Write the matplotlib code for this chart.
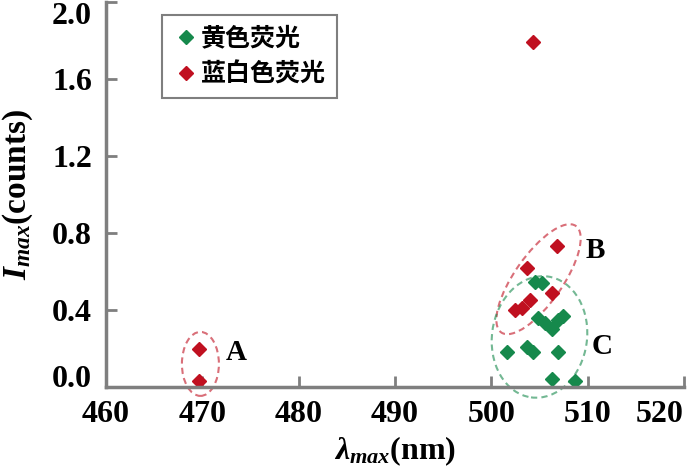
import matplotlib
matplotlib.use("Agg")
import matplotlib.pyplot as plt
from matplotlib.patches import Ellipse
from matplotlib.transforms import ScaledTranslation

plt.rcParams['font.family'] = ['Liberation Serif', 'DejaVu Serif']
plt.rcParams['font.weight'] = 'bold'
plt.rcParams['mathtext.fontset'] = 'custom'
plt.rcParams['mathtext.rm'] = 'Liberation Serif:bold'
plt.rcParams['mathtext.it'] = 'Liberation Serif:italic:bold'

# data
red_x = [469.7, 469.7, 504.3, 506.8, 503.7, 506.3, 504.0, 502.5, 503.2]
red_y = [0.20, 0.03, 1.79, 0.73, 0.62, 0.49, 0.45, 0.40, 0.41]
green_x = [504.5, 505.3, 504.8, 505.6, 506.3, 506.9, 507.4, 501.6, 503.7, 504.3, 506.9, 506.3, 508.7]
green_y = [0.545, 0.54, 0.36, 0.33, 0.30, 0.35, 0.37, 0.18, 0.21, 0.18, 0.18, 0.04, 0.03]
legend_labels = ['黄色荧光', '蓝白色荧光']
xticks = [460, 470, 480, 490, 500, 510, 520]
yticks = [0.0, 0.4, 0.8, 1.2, 1.6, 2.0]

green = '#16894c'
red = '#c01020'
grey = '#7f7f7f'

fig = plt.figure(figsize=(7, 4.73), dpi=100)
ax = fig.add_axes([106/700, 1-387/473, 578/700, 385/473])

ax.plot(green_x, green_y, 'D', color=green, markersize=7.5, linestyle='none', label=legend_labels[0])
ax.plot(red_x, red_y, 'D', color=red, markersize=7.5, linestyle='none', label=legend_labels[1])

ax.set_xlim(460, 520)
ax.set_ylim(0, 2.0)
ax.set_xticks(xticks)
ax.set_yticks(yticks)

for s in ['top', 'right']:
    ax.spines[s].set_visible(False)
for s in ['left', 'bottom']:
    ax.spines[s].set_color(grey)
    ax.spines[s].set_linewidth(2.5)
ax.tick_params(direction='in', length=8, width=2, color=grey, labelsize=23)
ax.tick_params(axis='y', pad=10)
ax.tick_params(axis='x', pad=9)

ax.set_xticklabels([str(v) for v in xticks], fontsize=23, fontweight='bold')
ax.set_yticklabels(['%.1f' % v for v in yticks], fontsize=23, fontweight='bold')
# end labels sit inside the figure like in the original
ylabs = ax.get_yticklabels()
ylabs[0].set_verticalalignment('baseline')
ylabs[-1].set_verticalalignment('top')
ax.get_xticklabels()[-1].set_horizontalalignment('right')

ax.set_xlabel(r'$\lambda_{max}$(nm)', fontsize=23, fontweight='bold', labelpad=4)
ax.set_ylabel(r'$I_{max}$(counts)', fontsize=24, fontweight='bold', labelpad=12)


# dashed ellipses, sizes in inches so the tilt is not distorted by the axis scaling
def ring(xc, yc, w, h, ang, col):
    tr = fig.dpi_scale_trans + ScaledTranslation(xc, yc, ax.transData)
    e = Ellipse((0, 0), w, h, angle=ang, fill=False, edgecolor=col, linestyle=(0, (3, 2)),
                linewidth=1.5, alpha=0.6, transform=tr, clip_on=False)
    ax.add_patch(e)

ring(469.8, 0.12, 0.37, 0.64, 0, red)
ring(504.9, 0.56, 1.3, 0.48, 55, red)
ring(505.0, 0.26, 0.95, 1.22, -8, green)

ax.text(472.4, 0.18, 'A', fontsize=21, fontweight='bold', va='center')
ax.text(509.8, 0.71, 'B', fontsize=21, fontweight='bold', va='center')
ax.text(510.4, 0.21, 'C', fontsize=21, fontweight='bold', va='center')

leg = ax.legend(loc='upper left', bbox_to_anchor=(0.097, 0.966), borderaxespad=0,
                prop={'family': ['Noto Sans CJK SC'], 'weight': 'bold', 'size': 18},
                handletextpad=0.1, handlelength=1.0, borderpad=0.45, labelspacing=0.5,
                fancybox=False, framealpha=1)
leg.get_frame().set_edgecolor(grey)
leg.get_frame().set_linewidth(1.5)

fig.savefig('out.png', dpi=100)
